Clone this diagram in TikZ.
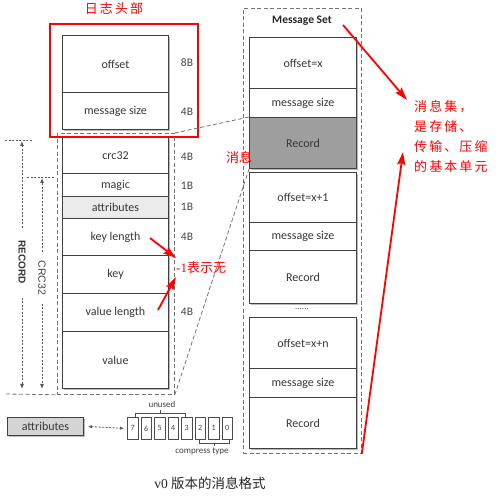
\documentclass[tikz,border=0pt]{standalone}
\usepackage{fontspec}
\setmainfont{Liberation Serif}
\setsansfont{Carlito}
\newfontfamily\cjk{Noto Sans CJK SC}
\newfontfamily\cjkls[LetterSpace=16]{Noto Sans CJK SC}
\newfontfamily\arialf{Liberation Sans}
\usetikzlibrary{shadows,arrows.meta}
\begin{document}
\begin{tikzpicture}[x=1pt,y=-1pt,
  fbox/.style={draw=black!75, line width=1pt, fill=white, inner sep=0pt, anchor=north west,
    font=\sffamily\fontsize{12}{13}\selectfont, text=black!78,
    drop shadow={shadow xshift=1.3pt, shadow yshift=-1.3pt, fill=black!45, opacity=0.6}},
  szlab/.style={font=\sffamily\fontsize{11.5}{12}\selectfont, text=black!72, inner sep=0pt},
  gdash/.style={draw=black!55, line width=0.8pt, dash pattern=on 4pt off 2.5pt},
  dimline/.style={draw=black!65, line width=0.8pt, dash pattern=on 2pt off 1.5pt},
  dimtip/.style={-{Latex[length=5pt,width=4pt]}},
  redarrow/.style={draw=red, line width=1.8pt, -{Stealth[length=13pt,width=8pt,inset=2pt]}},
  redtxt/.style={text=red, inner sep=0pt},
  bitbox/.style={draw=black!70, line width=0.7pt, fill=white, inner sep=0pt, anchor=north west,
    minimum width=10.5pt, minimum height=22pt, font=\sffamily\fontsize{8}{9}\selectfont, text=black!75},
  brk/.style={draw=black!70, line width=0.7pt}
]
\useasboundingbox[fill=white] (0,0) rectangle (504,502);

% title
\node[redtxt, font=\cjkls\fontsize{13}{14}\selectfont] (hdr) at (114,9) {日志头部};

% left column (record)
\node[fbox, minimum width=106pt, minimum height=57pt] (off) at (62,35) {offset};
\node[fbox, minimum width=106pt, minimum height=37pt] (msz) at (62,92) {message size};
\node[fbox, minimum width=106pt, minimum height=36pt] (crc) at (62,137) {crc32};
\node[fbox, minimum width=106pt, minimum height=23pt] (mag) at (62,173) {magic};
\node[fbox, minimum width=106pt, minimum height=22pt, fill=black!8] (att) at (62,196) {attributes};
\node[fbox, minimum width=106pt, minimum height=37pt] (kl) at (62,218) {key length};
\node[fbox, minimum width=106pt, minimum height=38pt] (key) at (62,255) {key};
\node[fbox, minimum width=106pt, minimum height=38pt] (vl) at (62,293) {value length};
\node[fbox, minimum width=106pt, minimum height=57pt] (val) at (62,331) {value};

% sizes
\node[szlab] (s1) at (187,63) {8B};
\node[szlab] (s2) at (187,112) {4B};
\node[szlab] (s3) at (187,157) {4B};
\node[szlab] (s4) at (187,186) {1B};
\node[szlab] (s5) at (187,207) {1B};
\node[szlab] (s6) at (187,237) {4B};
\node[szlab] (s7) at (187,312) {4B};

% red header box
\draw[red, line width=2pt] (50,24) rectangle (198,137);

% outer record dashed rectangle
\node[gdash, minimum width=117pt, minimum height=261pt, anchor=north west, inner sep=0pt] (rec) at (57,133) {};
\coordinate (recleft) at (6,394);
\draw[gdash] (recleft) -- (rec.south west);

% dimension lines
\coordinate (rt1) at (5,140);
\coordinate (rt2) at (33,140);
\draw[dimline] (rt1) -- (rt2);
\coordinate (ct1) at (27,177);
\coordinate (ct2) at (55,177);
\draw[dimline] (ct1) -- (ct2);
\node[font=\arialf\bfseries\fontsize{10}{11}\selectfont, text=black!80, rotate=-90, inner sep=0pt] (reclab) at (22,262) {RECORD};
\node[font=\arialf\fontsize{10.5}{11}\selectfont, text=black!75, rotate=-90, inner sep=0pt] (crclab) at (42,278) {CRC32};
\coordinate (ra) at (22,141);
\coordinate (rb) at (22,228);
\coordinate (rc) at (22,298);
\coordinate (rd) at (22,389);
\draw[dimline, dimtip] (rb) -- (ra);
\draw[dimline, dimtip] (rc) -- (rd);
\coordinate (ca) at (42,178);
\coordinate (cb) at (42,252);
\coordinate (cc) at (42,304);
\coordinate (cd) at (42,389);
\draw[dimline, dimtip] (cb) -- (ca);
\draw[dimline, dimtip] (cc) -- (cd);

% message set
\node[gdash, minimum width=118pt, minimum height=445pt, anchor=north west, inner sep=0pt] (ms) at (243,8) {};
\node[font=\sffamily\bfseries\fontsize{11.5}{12}\selectfont, text=black!85, inner sep=0pt] (mst) at (302,21) {Message Set};
\node[fbox, minimum width=107pt, minimum height=51pt] (o1) at (249,37) {offset=x};
\node[fbox, minimum width=107pt, minimum height=29pt] (m1) at (249,88) {message size};
\node[fbox, minimum width=107pt, minimum height=51pt, fill=black!38] (r1) at (249,117) {Record};
\node[fbox, minimum width=107pt, minimum height=50pt] (o2) at (249,172) {offset=x+1};
\node[fbox, minimum width=107pt, minimum height=28pt] (m2) at (249,222) {message size};
\node[fbox, minimum width=107pt, minimum height=53pt] (r2) at (249,250) {Record};
\node[font=\sffamily\fontsize{9}{10}\selectfont, text=black!70, inner sep=0pt] (dots) at (302,309) {......};
\node[fbox, minimum width=107pt, minimum height=51pt] (o3) at (249,317) {offset=x+n};
\node[fbox, minimum width=107pt, minimum height=29pt] (m3) at (249,368) {message size};
\node[fbox, minimum width=107pt, minimum height=51pt] (r3) at (249,397) {Record};

% connectors record -> message set
\draw[gdash] (rec.north east) -- (r1.north west);
\draw[gdash] (rec.south east) -- (r1.south west);

\node[redtxt, font=\cjk\fontsize{13}{14}\selectfont] (xx) at (239,157) {消息};

% -1 annotation
\node[redtxt, anchor=west, font=\fontsize{13}{14}\selectfont] (neg) at (176,268) {-1{\cjk 表示无}};
\coordinate (k1) at (150,238);
\coordinate (k2) at (158,310);
\draw[redarrow] (k1) -- (neg.west |- 0,258);
\draw[redarrow] (k2) -- (neg.west |- 0,277);

% message set annotation
\node[redtxt, anchor=west, align=left, font=\cjkls\fontsize{13}{20}\selectfont] (ann) at (414,136.5) {消息集，\\是存储、\\传输、压缩\\的基本单元};
\coordinate (a1) at (343,25);
\coordinate (a1t) at (407,100);
\draw[redarrow] (a1) -- (a1t);
\coordinate (a2t) at (403,152);
\draw[redarrow] (ms.south east) -- (a2t);

% attributes detail
\node[fbox, minimum width=76pt, minimum height=18pt, fill=black!17] (ab) at (7,417) {attributes};
\node[bitbox] (b7) at (127,417) {7};
\node[bitbox] (b6) at (140.5,417) {6};
\node[bitbox] (b5) at (154,417) {5};
\node[bitbox] (b4) at (167.5,417) {4};
\node[bitbox] (b3) at (181,417) {3};
\node[bitbox] (b2) at (194.5,417) {2};
\node[bitbox] (b1) at (208,417) {1};
\node[bitbox] (b0) at (221.5,417) {0};
\draw[dimline, {Latex[length=4pt,width=3.5pt]}-{Latex[length=4pt,width=3.5pt]}] ([xshift=4pt]ab.east) -- ([xshift=-3pt]b7.west);
\draw[brk] (135,417) -- (135,413) -- (185,413) -- (185,417);
\draw[brk] (160,413) -- (160,410);
\node[font=\sffamily\fontsize{9}{10}\selectfont, text=black!75, inner sep=0pt] (unu) at (162,404) {unused};
\draw[brk] (199,439) -- (199,443) -- (229,443) -- (229,439);
\draw[brk] (214,443) -- (214,446);
\node[font=\sffamily\fontsize{9}{10}\selectfont, text=black!75, inner sep=0pt] (cmp) at (202,451) {compress type};

% caption
\node[font=\fontsize{13.5}{15}\selectfont, text=black!85, inner sep=0pt] (cap) at (210,483) {v0 {\cjk 版本的消息格式}};
\end{tikzpicture}
\end{document}
